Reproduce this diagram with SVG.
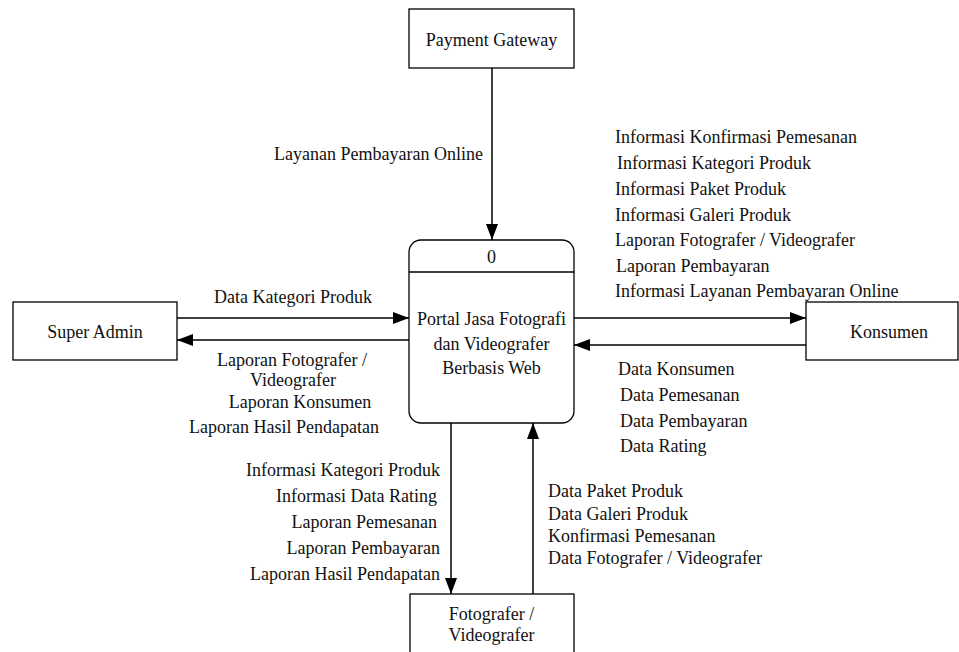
<svg xmlns="http://www.w3.org/2000/svg" width="959" height="652" viewBox="0 0 959 652">
<style>
  .box{fill:#fff;stroke:#000;stroke-width:1.3}
  .t{font-family:"Liberation Serif","Times New Roman",serif;font-size:18px;fill:#111}
  .c{text-anchor:middle}
  .e{text-anchor:end}
  .ln{stroke:#000;stroke-width:1.5;fill:none;marker-end:url(#ah)}
</style>
<defs>
  <marker id="ah" markerUnits="userSpaceOnUse" markerWidth="16" markerHeight="12" viewBox="0 0 16 12" refX="16" refY="6" orient="auto">
    <path d="M0,0 L16,6 L0,12 Z" fill="#000"/>
  </marker>
</defs>
<rect width="959" height="652" fill="#fff"/>

<g id="connectors">
  <line class="ln" x1="492" y1="68" x2="492" y2="240"/>
  <line class="ln" x1="177" y1="318" x2="409" y2="318"/>
  <line class="ln" x1="409" y1="340" x2="177" y2="340"/>
  <line class="ln" x1="574" y1="318" x2="806" y2="318"/>
  <line class="ln" x1="806" y1="345" x2="574" y2="345"/>
  <line class="ln" x1="451" y1="423" x2="451" y2="594"/>
  <line class="ln" x1="533" y1="594" x2="533" y2="423"/>
</g>

<g id="payment-gateway">
  <rect class="box" x="409" y="9" width="165" height="59"/>
  <text class="t c" x="491.5" y="46">Payment Gateway</text>
</g>

<g id="process-0">
  <rect class="box" x="409" y="240" width="165" height="183" rx="12" ry="12"/>
  <line x1="409" y1="272" x2="574" y2="272" stroke="#000" stroke-width="1.3"/>
  <text class="t c" x="491.5" y="263">0</text>
  <text class="t c" x="491.5" y="325">Portal Jasa Fotografi</text>
  <text class="t c" x="491.5" y="350">dan Videografer</text>
  <text class="t c" x="491.5" y="374">Berbasis Web</text>
</g>

<g id="super-admin">
  <rect class="box" x="13" y="302" width="164" height="58"/>
  <text class="t c" x="95" y="338">Super Admin</text>
</g>

<g id="konsumen">
  <rect class="box" x="806" y="302" width="152" height="58"/>
  <text class="t c" x="889" y="338">Konsumen</text>
</g>

<g id="fotografer">
  <rect class="box" x="410" y="594" width="164" height="70"/>
  <text class="t c" x="491.5" y="620">Fotografer /</text>
  <text class="t c" x="491.5" y="641">Videografer</text>
</g>

<g id="labels">
  <text class="t e" x="483" y="160">Layanan Pembayaran Online</text>

  <text class="t c" x="293" y="303">Data Kategori Produk</text>
  <text class="t c" x="292" y="366">Laporan Fotografer /</text>
  <text class="t c" x="293" y="386">Videografer</text>
  <text class="t c" x="300" y="408">Laporan Konsumen</text>
  <text class="t c" x="284" y="433">Laporan Hasil Pendapatan</text>

  <text class="t" x="615" y="143">Informasi Konfirmasi Pemesanan</text>
  <text class="t" x="617" y="169">Informasi Kategori Produk</text>
  <text class="t" x="615" y="195">Informasi Paket Produk</text>
  <text class="t" x="615" y="221">Informasi Galeri Produk</text>
  <text class="t" x="615" y="246">Laporan Fotografer / Videografer</text>
  <text class="t" x="616" y="272">Laporan Pembayaran</text>
  <text class="t" x="615" y="297">Informasi Layanan Pembayaran Online</text>

  <text class="t" x="618" y="375">Data Konsumen</text>
  <text class="t" x="620" y="401">Data Pemesanan</text>
  <text class="t" x="620" y="427">Data Pembayaran</text>
  <text class="t" x="620" y="452">Data Rating</text>

  <text class="t e" x="440" y="476">Informasi Kategori Produk</text>
  <text class="t e" x="437" y="502">Informasi Data Rating</text>
  <text class="t e" x="437" y="528">Laporan Pemesanan</text>
  <text class="t e" x="440" y="554">Laporan Pembayaran</text>
  <text class="t e" x="440" y="580">Laporan Hasil Pendapatan</text>

  <text class="t" x="548" y="497">Data Paket Produk</text>
  <text class="t" x="548" y="520">Data Galeri Produk</text>
  <text class="t" x="548" y="542">Konfirmasi Pemesanan</text>
  <text class="t" x="548" y="564">Data Fotografer / Videografer</text>
</g>
</svg>
